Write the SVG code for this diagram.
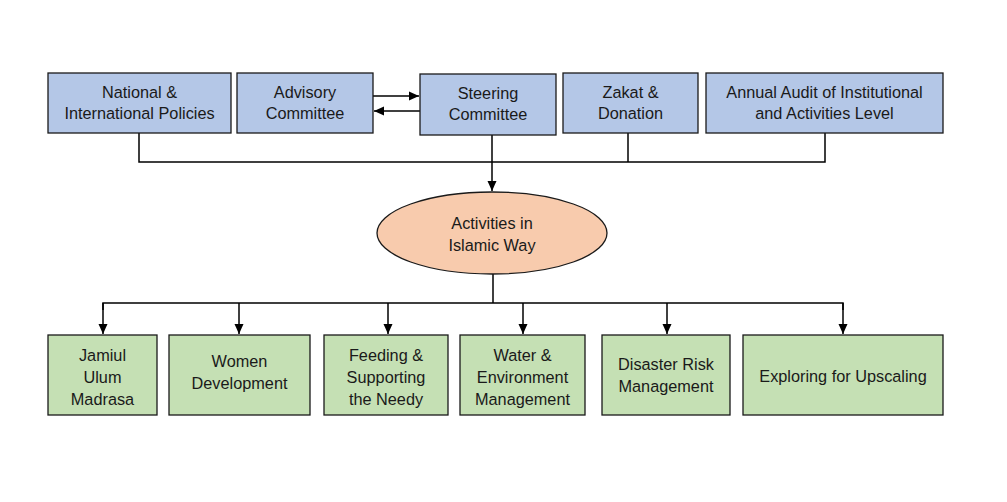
<svg xmlns="http://www.w3.org/2000/svg" width="1007" height="502" viewBox="0 0 1007 502">
<defs>
<style>
.b{fill:#B4C7E7;stroke:#1a1a1a;stroke-width:1.3}
.g{fill:#C5E0B4;stroke:#1a1a1a;stroke-width:1.3}
.e{fill:#F8CBAD;stroke:#1a1a1a;stroke-width:1.3}
text{font-family:"Liberation Sans",Arial,sans-serif;font-size:16.3px;fill:#1a1a1a;text-anchor:middle}
.c{fill:none;stroke:#000;stroke-width:1.5}
</style>
<marker id="ah" viewBox="0 0 10 10" refX="10" refY="5" markerWidth="10" markerHeight="10" markerUnits="userSpaceOnUse" orient="auto">
<path d="M0,0.5 L10,5 L0,9.5 z" fill="#000"/>
</marker>
</defs>
<rect width="1007" height="502" fill="#fff"/>
<g id="connectors">
<polyline class="c" points="139,133 139,162 825,162 825,133"/>
<line class="c" x1="628" y1="133" x2="628" y2="162"/>
<line class="c" x1="492" y1="135" x2="492" y2="191" marker-end="url(#ah)"/>
<line class="c" x1="373" y1="96" x2="419" y2="96" marker-end="url(#ah)"/>
<line class="c" x1="420" y1="111" x2="374" y2="111" marker-end="url(#ah)"/>
<line class="c" x1="493" y1="274" x2="493" y2="303"/>
<polyline class="c" points="103,310 103,303 843,303 843,310"/>
<line class="c" x1="103" y1="303" x2="103" y2="334" marker-end="url(#ah)"/>
<line class="c" x1="239" y1="303" x2="239" y2="334" marker-end="url(#ah)"/>
<line class="c" x1="388" y1="303" x2="388" y2="334" marker-end="url(#ah)"/>
<line class="c" x1="523" y1="303" x2="523" y2="334" marker-end="url(#ah)"/>
<line class="c" x1="667" y1="303" x2="667" y2="334" marker-end="url(#ah)"/>
<line class="c" x1="843" y1="303" x2="843" y2="334" marker-end="url(#ah)"/>
</g>
<g id="national"><rect class="b" x="48" y="73" width="183" height="60"/><text x="139.5" y="98">National &amp;</text><text x="139.5" y="119">International Policies</text></g>
<g id="advisory"><rect class="b" x="237" y="73" width="136" height="60"/><text x="305" y="98">Advisory</text><text x="305" y="119">Committee</text></g>
<g id="steering"><rect class="b" x="420" y="74" width="136" height="61"/><text x="488" y="99">Steering</text><text x="488" y="120">Committee</text></g>
<g id="zakat"><rect class="b" x="563" y="73" width="135" height="60"/><text x="630.5" y="98">Zakat &amp;</text><text x="630.5" y="119">Donation</text></g>
<g id="audit"><rect class="b" x="706" y="73" width="237" height="60"/><text x="824.5" y="98">Annual Audit of Institutional</text><text x="824.5" y="119">and Activities Level</text></g>
<g id="activities"><ellipse class="e" cx="492" cy="233" rx="115" ry="41"/><text x="492" y="229">Activities in</text><text x="492" y="251">Islamic Way</text></g>
<g id="jamiul"><rect class="g" x="48" y="335" width="109" height="80"/><text x="102.5" y="361">Jamiul</text><text x="102.5" y="383">Ulum</text><text x="102.5" y="405">Madrasa</text></g>
<g id="women"><rect class="g" x="169" y="335" width="141" height="80"/><text x="239.5" y="367">Women</text><text x="239.5" y="389">Development</text></g>
<g id="feeding"><rect class="g" x="324" y="335" width="124" height="80"/><text x="386" y="361">Feeding &amp;</text><text x="386" y="383">Supporting</text><text x="386" y="405">the Needy</text></g>
<g id="water"><rect class="g" x="460" y="335" width="125" height="80"/><text x="522.5" y="361">Water &amp;</text><text x="522.5" y="383">Environment</text><text x="522.5" y="405">Management</text></g>
<g id="disaster"><rect class="g" x="602" y="335" width="128" height="80"/><text x="666" y="370">Disaster Risk</text><text x="666" y="392">Management</text></g>
<g id="exploring"><rect class="g" x="743" y="335" width="200" height="80"/><text x="843" y="382">Exploring for Upscaling</text></g>
</svg>
